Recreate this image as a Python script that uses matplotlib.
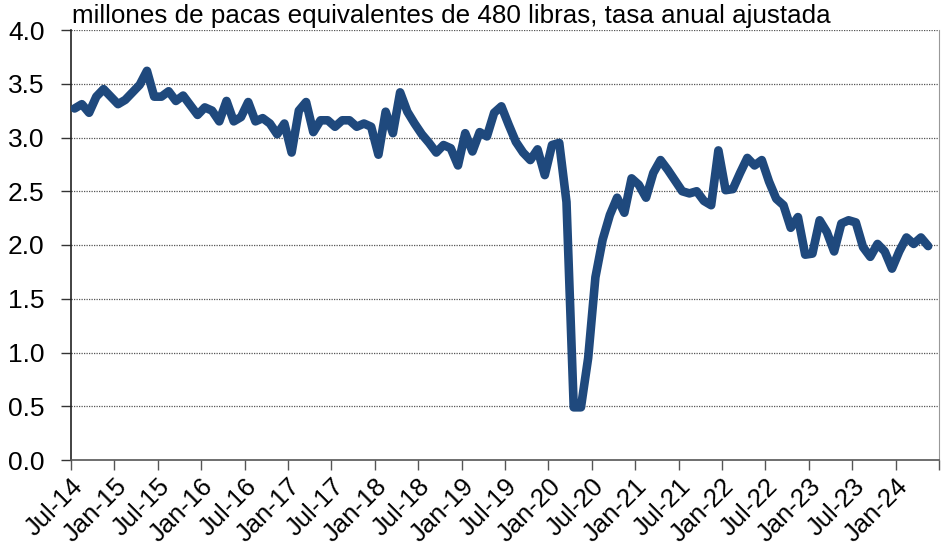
import matplotlib
matplotlib.use("Agg")
import matplotlib.pyplot as plt
import numpy as np

plt.rcParams['font.family'] = ['Liberation Sans', 'DejaVu Sans']

title = "millones de pacas equivalentes de 480 libras, tasa anual ajustada"
tick_labels = ["Jul-14", "Jan-15", "Jul-15", "Jan-16", "Jul-16", "Jan-17", "Jul-17",
               "Jan-18", "Jul-18", "Jan-19", "Jul-19", "Jan-20", "Jul-20", "Jan-21",
               "Jul-21", "Jan-22", "Jul-22", "Jan-23", "Jul-23", "Jan-24"]
values = [3.27, 3.31, 3.23, 3.38, 3.45, 3.38, 3.31, 3.35, 3.42, 3.49,
          3.62, 3.38, 3.38, 3.43, 3.34, 3.39, 3.30, 3.21, 3.28, 3.25,
          3.15, 3.34, 3.15, 3.19, 3.33, 3.15, 3.18, 3.13, 3.03, 3.13,
          2.86, 3.25, 3.33, 3.05, 3.16, 3.16, 3.10, 3.16, 3.16, 3.10,
          3.13, 3.10, 2.84, 3.24, 3.04, 3.42, 3.24, 3.13, 3.03, 2.95,
          2.86, 2.93, 2.90, 2.74, 3.04, 2.87, 3.05, 3.01, 3.23, 3.29,
          3.12, 2.96, 2.86, 2.79, 2.89, 2.65, 2.93, 2.95, 2.40, 0.49,
          0.49, 0.95, 1.70, 2.05, 2.28, 2.44, 2.30, 2.62, 2.56, 2.44,
          2.67, 2.79, 2.70, 2.60, 2.50, 2.48, 2.50, 2.41, 2.37, 2.88,
          2.51, 2.52, 2.67, 2.81, 2.74, 2.79, 2.59, 2.43, 2.37, 2.16,
          2.26, 1.91, 1.92, 2.23, 2.12, 1.94, 2.20, 2.23, 2.21, 1.98,
          1.89, 2.01, 1.94, 1.78, 1.94, 2.07, 2.01, 2.07, 1.99]
n_slots = 120
y_ticks = [0.0, 0.5, 1.0, 1.5, 2.0, 2.5, 3.0, 3.5, 4.0]

fig = plt.figure(figsize=(9.42, 5.6), dpi=100)
ax = fig.add_axes([71/942, 100/560, 868/942, 430/560])

x = np.arange(len(values)) + 0.5
ax.plot(x, values, color='#1F497D', lw=6.2, solid_joinstyle='round',
        solid_capstyle='round', zorder=3)

ax.set_xlim(0, n_slots)
ax.set_ylim(0, 4.0)
ax.set_yticks(y_ticks)
ax.set_yticklabels([f"{v:.1f}" for v in y_ticks], fontsize=19)
for v in y_ticks[1:]:
    ax.axhline(v, color='#555555', lw=0.9, ls=(0, (1, 1)), zorder=1)

xt = np.arange(0, n_slots + 1, 6)
ax.set_xticks(xt)
ax.set_xticklabels(tick_labels + [""], rotation=45, ha='right',
                   rotation_mode='anchor', fontsize=18.5)
ax.tick_params(axis='x', length=7, width=1, color='#555555', pad=3)
ax.tick_params(axis='y', length=7, width=1, color='#333333', pad=12)

ax.spines['top'].set_visible(False)
ax.spines['left'].set_color('#222222')
ax.spines['left'].set_linewidth(1.2)
ax.spines['bottom'].set_color('#555555')
ax.spines['bottom'].set_linewidth(1.2)
ax.spines['right'].set_color('#999999')
ax.spines['right'].set_linewidth(0.8)

fig.text(72/942, 1 - 16/560, title, fontsize=18.7, ha='left', va='center')

fig.savefig("out.png", dpi=100)
